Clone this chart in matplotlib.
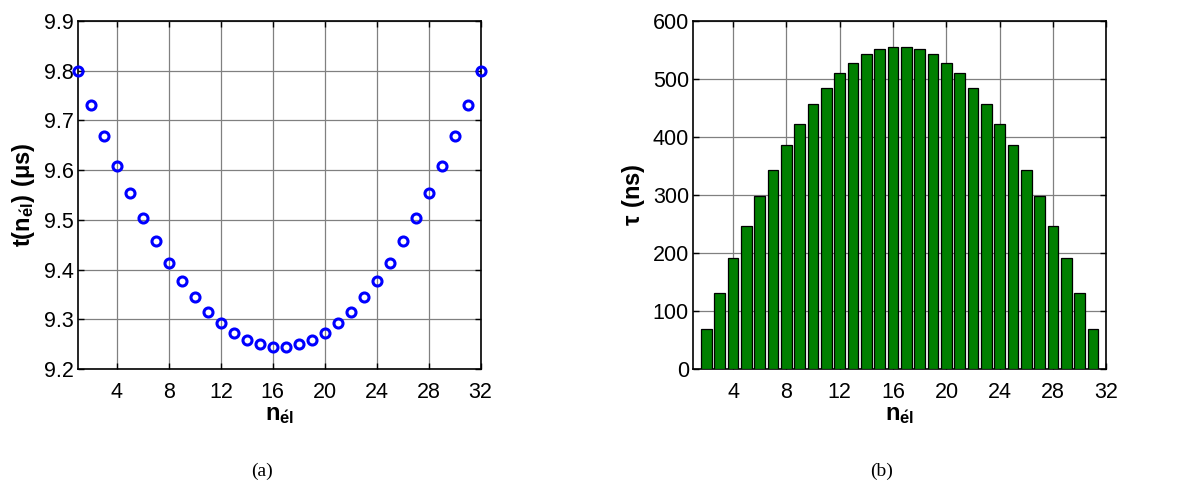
import numpy as np
import matplotlib
matplotlib.use("Agg")
import matplotlib.pyplot as plt

plt.rcParams['font.family'] = ['Liberation Sans', 'DejaVu Sans']
plt.rcParams['mathtext.fontset'] = 'custom'
plt.rcParams['mathtext.rm'] = 'Liberation Sans'
plt.rcParams['mathtext.bf'] = 'Liberation Sans:bold'

# ----- data -----
n_el = np.arange(1, 33)
t_us = [9.800, 9.732, 9.669, 9.609, 9.555, 9.504, 9.458, 9.414,
        9.377, 9.344, 9.315, 9.293, 9.272, 9.259, 9.250, 9.244,
        9.244, 9.250, 9.259, 9.272, 9.293, 9.315, 9.344, 9.377,
        9.414, 9.458, 9.504, 9.555, 9.609, 9.669, 9.732, 9.800]

n_bar = np.arange(2, 32)
tau_ns = [69, 131, 192, 246, 298, 344, 386, 423, 457, 485,
          510, 528, 543, 551, 556, 556, 551, 543, 528, 510,
          485, 457, 423, 386, 344, 298, 246, 192, 131, 69]

x_ticks = [4, 8, 12, 16, 20, 24, 28, 32]


def matlab_style(ax):
    ax.grid(True, color='0.5', linewidth=0.9)
    ax.set_axisbelow(True)
    ax.tick_params(direction='in', top=True, right=True, labelsize=15.5,
                   length=4, width=1)
    ax.tick_params(axis='x', pad=9)
    ax.tick_params(axis='y', pad=3)
    for s in ax.spines.values():
        s.set_linewidth(1.2)


fig = plt.figure(figsize=(11.91, 4.86), dpi=100)

# (a) arrival time per element
ax1 = fig.add_axes([0.0655, 0.2407, 0.338, 0.716])
ax1.plot(n_el, t_us, 'o', mfc='none', mec='blue', mew=2.2, ms=6.5,
         clip_on=False, zorder=3)
ax1.set_xlim(1, 32)
ax1.set_ylim(9.2, 9.9)
ax1.set_xticks(x_ticks)
ax1.set_yticks(np.arange(9.2, 9.91, 0.1))
ax1.set_yticklabels([f"{v:.1f}" for v in np.arange(9.2, 9.91, 0.1)])
matlab_style(ax1)
ax1.set_xlabel(r"$\mathbf{n_{\acute{e}l}}$", fontsize=17, labelpad=1)
ax1.set_ylabel(r"$\mathbf{t(n_{\acute{e}l})\ (\mu s)}$", fontsize=17, labelpad=5)

# (b) delay per element
ax2 = fig.add_axes([0.582, 0.2407, 0.347, 0.716])
ax2.bar(n_bar, tau_ns, width=0.8, color=(0, 0.5, 0), edgecolor='black',
        linewidth=0.9, zorder=3)
ax2.set_xlim(1, 32)
ax2.set_ylim(0, 600)
ax2.set_xticks(x_ticks)
ax2.set_yticks(np.arange(0, 601, 100))
matlab_style(ax2)
ax2.set_xlabel(r"$\mathbf{n_{\acute{e}l}}$", fontsize=17, labelpad=1)
ax2.set_ylabel(r"$\mathbf{\tau\ (ns)}$", fontsize=17, labelpad=4)

fig.text(0.220, 0.030, "(a)", family='Liberation Serif', fontsize=14,
         ha='center', va='center')
fig.text(0.740, 0.030, "(b)", family='Liberation Serif', fontsize=14,
         ha='center', va='center')

fig.savefig("out.png", dpi=100)
